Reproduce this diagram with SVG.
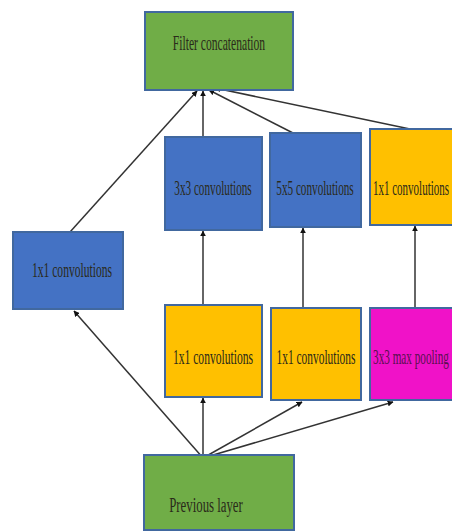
<svg xmlns="http://www.w3.org/2000/svg" width="452" height="532" viewBox="0 0 452 532">
<defs>
<marker id="ah" viewBox="0 0 10 10" refX="9" refY="5" markerWidth="6" markerHeight="6" orient="auto" markerUnits="userSpaceOnUse">
<path d="M0,0 L10,5 L0,10 z" fill="#111"/>
</marker>
<style>
.box{stroke:#41689f;stroke-width:2}
.g{fill:#70ad47}.b{fill:#4472c4}.y{fill:#ffc000}.m{fill:#f012c8}
text{font-family:"Liberation Serif","Times New Roman",serif;font-size:20px;fill:#2a2a1a;text-anchor:middle}
.c line{stroke:#333;stroke-width:1.5;marker-end:url(#ah)}
</style>
</defs>
<rect width="452" height="532" fill="#fff"/>
<g class="c">
<line x1="70" y1="232" x2="197" y2="91"/>
<line x1="203" y1="137" x2="203" y2="91"/>
<line x1="293" y1="133" x2="209" y2="90"/>
<line x1="410" y1="129" x2="215" y2="88"/>
<line x1="203" y1="305" x2="203" y2="231"/>
<line x1="303" y1="308" x2="303" y2="228"/>
<line x1="415" y1="308" x2="415" y2="226"/>
<line x1="203" y1="458" x2="74" y2="311"/>
<line x1="203" y1="458" x2="203" y2="398"/>
<line x1="203" y1="458" x2="302" y2="402"/>
<line x1="203" y1="458" x2="393" y2="402"/>
</g>
<g id="concat"><rect class="box g" x="145" y="12" width="148" height="78"/><text transform="translate(219,50) scale(0.58,1)">Filter concatenation</text></g>
<g id="conv3x3"><rect class="box b" x="165" y="137" width="97" height="93"/><text transform="translate(213,195) scale(0.56,1)">3x3 convolutions</text></g>
<g id="conv5x5"><rect class="box b" x="270" y="133" width="91" height="94"/><text transform="translate(315,195) scale(0.56,1)">5x5 convolutions</text></g>
<g id="conv1x1top"><rect class="box y" x="370" y="129" width="90" height="96"/><text transform="translate(411,195) scale(0.55,1)">1x1 convolutions</text></g>
<g id="conv1x1left"><rect class="box b" x="13" y="232" width="110" height="77"/><text transform="translate(72,277) scale(0.58,1)">1x1 convolutions</text></g>
<g id="red1"><rect class="box y" x="165" y="305" width="97" height="92"/><text transform="translate(213,364) scale(0.58,1)">1x1 convolutions</text></g>
<g id="red2"><rect class="box y" x="271" y="308" width="90" height="92"/><text transform="translate(316,364) scale(0.57,1)">1x1 convolutions</text></g>
<g id="pool"><rect class="box m" x="370" y="308" width="90" height="92"/><text transform="translate(411,364) scale(0.56,1)" style="fill:#5a1050">3x3 max pooling</text></g>
<g id="prev"><rect class="box g" x="144" y="455" width="150" height="75"/><text transform="translate(206,512) scale(0.64,1)">Previous layer</text></g>
</svg>
